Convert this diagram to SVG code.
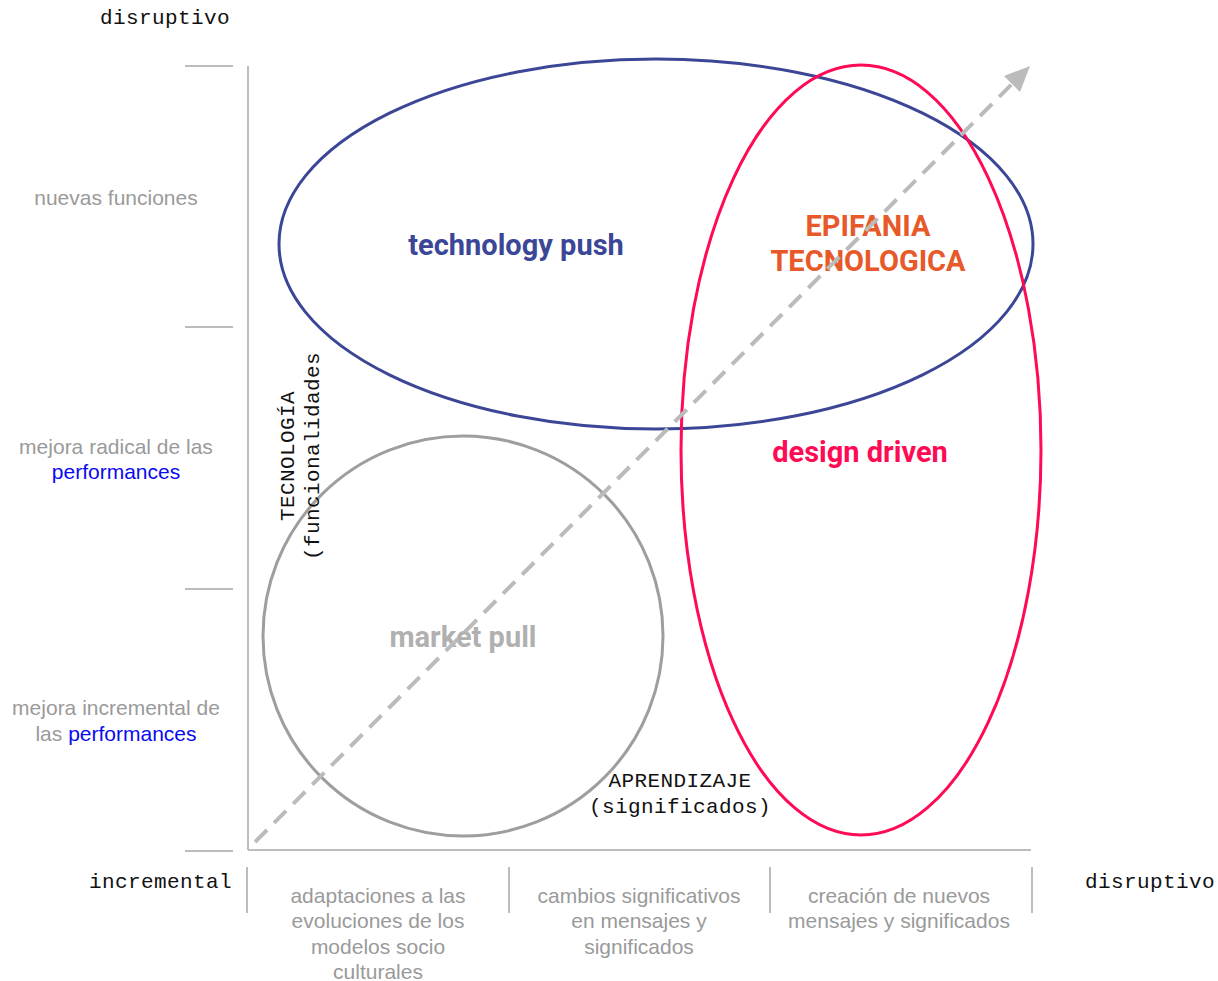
<svg xmlns="http://www.w3.org/2000/svg" width="1218" height="981" viewBox="0 0 1218 981">
<style>
.axis{stroke:#bdbdbd;stroke-width:2;fill:none}
.mono{font-family:"Liberation Mono","DejaVu Sans Mono",monospace;font-size:21px;letter-spacing:0.4px;fill:#111}
.lab{font-family:"Liberation Sans",Arial,sans-serif;font-size:21px;fill:#9a9a9a;text-anchor:middle}
.blue{fill:#0a0af0}
.big{font-family:Roboto,"Liberation Sans",sans-serif;font-weight:bold;font-size:29px;text-anchor:middle}
</style>
<rect width="1218" height="981" fill="#fff"/>
<g id="axes">
<line class="axis" x1="248" y1="66" x2="248" y2="850"/>
<line class="axis" x1="248" y1="850" x2="1031" y2="850"/>
<line class="axis" x1="185" y1="66" x2="233" y2="66"/>
<line class="axis" x1="185" y1="327" x2="233" y2="327"/>
<line class="axis" x1="185" y1="589" x2="233" y2="589"/>
<line class="axis" x1="185" y1="851" x2="233" y2="851"/>
<line class="axis" x1="247" y1="867" x2="247" y2="913"/>
<line class="axis" x1="509" y1="867" x2="509" y2="913"/>
<line class="axis" x1="770" y1="867" x2="770" y2="913"/>
<line class="axis" x1="1032" y1="867" x2="1032" y2="913"/>
</g>
<g id="market-pull">
<circle cx="463" cy="636" r="200" fill="none" stroke="#9e9e9e" stroke-width="3"/>
<text class="big" x="463" y="647" fill="#b0b0b0">market pull</text>
</g>
<g id="technology-push">
<ellipse cx="656" cy="244" rx="377" ry="185" fill="none" stroke="#3b4796" stroke-width="3"/>
<text class="big" x="516" y="255" fill="#3b4796">technology push</text>
</g>
<g id="design-driven">
<ellipse cx="861" cy="450" rx="180" ry="385" fill="none" stroke="#ff0a54" stroke-width="3"/>
<text class="big" x="860" y="462" fill="#ff0a54">design driven</text>
</g>
<g id="epifania">
<text class="big" x="868" y="236" fill="#e8592a">EPIFANIA</text>
<text class="big" x="868" y="271" fill="#e8592a">TECNOLOGICA</text>
</g>
<g id="connectors">
<line x1="255" y1="842" x2="1018" y2="78" stroke="#bbbbbb" stroke-width="4" stroke-dasharray="17 10"/>
<path d="M1030,66 L1020,92 L1004,76 Z" fill="#bbbbbb"/>
</g>
<g id="labels">
<text class="mono" x="100" y="24">disruptivo</text>
<text class="mono" x="89" y="888">incremental</text>
<text class="mono" x="1085" y="888">disruptivo</text>
<text class="mono" text-anchor="middle" x="680" y="787">APRENDIZAJE</text>
<text class="mono" text-anchor="middle" x="680" y="813">(significados)</text>
<text class="mono" text-anchor="middle" transform="translate(294,456) rotate(-90)">TECNOLOGÍA</text>
<text class="mono" text-anchor="middle" transform="translate(319,456) rotate(-90)">(funcionalidades</text>
<text class="lab" x="116" y="205">nuevas funciones</text>
<text class="lab" x="116" y="454">mejora radical de las</text>
<text class="lab blue" x="116" y="479">performances</text>
<text class="lab" x="116" y="715">mejora incremental de</text>
<text class="lab" x="116" y="741">las <tspan class="blue">performances</tspan></text>
<text class="lab" x="378" y="903">adaptaciones a las</text>
<text class="lab" x="378" y="928">evoluciones de los</text>
<text class="lab" x="378" y="954">modelos socio</text>
<text class="lab" x="378" y="979">culturales</text>
<text class="lab" x="639" y="903">cambios significativos</text>
<text class="lab" x="639" y="928">en mensajes y</text>
<text class="lab" x="639" y="954">significados</text>
<text class="lab" x="899" y="903">creación de nuevos</text>
<text class="lab" x="899" y="928">mensajes y significados</text>
</g>
</svg>
